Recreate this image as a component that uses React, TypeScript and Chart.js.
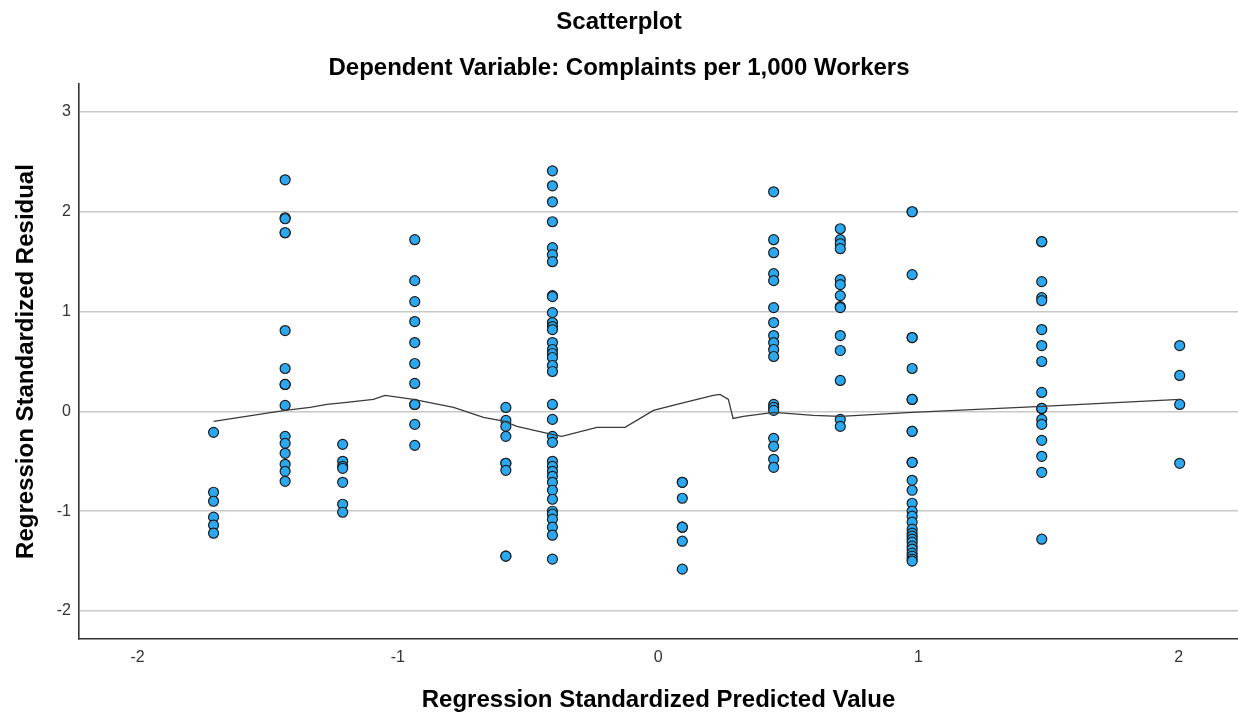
import React, { useEffect, useRef } from "react";
import { Chart, registerables } from "chart.js";

Chart.register(...registerables);

// Predicted value of each vertical stack of points
const predicted = [-1.708, -1.433, -1.212, -0.935, -0.585, -0.406, 0.093, 0.444, 0.7, 0.976, 1.474, 2.004];

// Standardized residuals per stack
const resA = [-0.21, -0.81, -0.9, -1.06, -1.14, -1.22];
const resB = [2.32, 1.94, 1.93, 1.79, 1.79, 0.81, 0.43, 0.27, 0.27, 0.06, -0.25, -0.32, -0.42, -0.53, -0.6, -0.7];
const resC = [-0.33, -0.5, -0.55, -0.57, -0.71, -0.93, -1.01];
const resD = [1.72, 1.31, 1.1, 0.9, 0.69, 0.48, 0.28, 0.07, 0.07, -0.13, -0.34];
const resE = [0.04, -0.09, -0.15, -0.25, -0.52, -0.52, -0.59, -1.45, -1.45];
const resF = [2.41, 2.26, 2.1, 1.9, 1.64, 1.57, 1.5, 1.16, 1.15, 0.99, 0.89, 0.85, 0.82, 0.69, 0.62, 0.58, 0.54, 0.46, 0.4, 0.07, -0.08, -0.25, -0.31, -0.5, -0.55, -0.6, -0.65, -0.71, -0.79, -0.88, -1.0, -1.03, -1.08, -1.16, -1.24, -1.48];
const resG = [-0.71, -0.71, -0.87, -1.16, -1.16, -1.3, -1.58];
const resH = [2.2, 1.72, 1.59, 1.38, 1.31, 1.04, 0.89, 0.76, 0.69, 0.62, 0.55, 0.07, 0.04, 0.01, -0.27, -0.35, -0.48, -0.56];
const resI = [1.83, 1.72, 1.68, 1.63, 1.32, 1.27, 1.16, 1.05, 1.04, 0.76, 0.61, 0.31, -0.08, -0.15];
const resJ = [2.0, 2.0, 1.37, 0.74, 0.74, 0.43, 0.12, 0.12, -0.2, -0.2, -0.51, -0.51, -0.69, -0.79, -0.92, -1.0, -1.05, -1.11, -1.18, -1.22, -1.25, -1.28, -1.31, -1.35, -1.38, -1.42, -1.45, -1.48, -1.5];
const resK = [1.7, 1.7, 1.3, 1.14, 1.11, 0.82, 0.66, 0.5, 0.19, 0.03, 0.03, -0.08, -0.13, -0.29, -0.45, -0.61, -1.28];
const resL = [0.66, 0.36, 0.07, -0.52];
const residualGroups = [resA, resB, resC, resD, resE, resF, resG, resH, resI, resJ, resK, resL];

// Loess fit line
const loessX = [-1.708, -1.433, -1.337, -1.273, -1.196, -1.094, -1.049, -0.94, -0.786, -0.671, -0.588, -0.543, -0.408, -0.37, -0.235, -0.127, -0.018, 0.072, 0.212, 0.238, 0.27, 0.288, 0.328, 0.444, 0.597, 0.7, 0.977, 1.475, 2.005];
const loessY = [-0.1, 0.01, 0.04, 0.07, 0.09, 0.12, 0.16, 0.12, 0.04, -0.06, -0.1, -0.15, -0.23, -0.25, -0.16, -0.16, 0.01, 0.07, 0.16, 0.17, 0.12, -0.07, -0.05, -0.01, -0.04, -0.05, -0.01, 0.05, 0.12];

// Axis ticks
const xTicks = [-2, -1, 0, 1, 2];
const yTicks = [-2, -1, 0, 1, 2, 3];

const titleText = "Scatterplot";
const subtitleText = "Dependent Variable: Complaints per 1,000 Workers";
const xTitle = "Regression Standardized Predicted Value";
const yTitle = "Regression Standardized Residual";

export default function App() {
  const ref = useRef<HTMLCanvasElement | null>(null);

  useEffect(() => {
    const canvas = ref.current;
    if (!canvas) return;
    Chart.defaults.font.family = "'Liberation Sans', Arial, sans-serif";

    const points: { x: number; y: number }[] = [];
    residualGroups.forEach((g, i) => g.forEach((r) => points.push({ x: predicted[i], y: r })));
    const line = loessX.map((x, i) => ({ x, y: loessY[i] }));

    const chart = new Chart(canvas, {
      type: "scatter",
      data: {
        datasets: [
          {
            type: "line",
            data: line,
            borderColor: "#3a3a3a",
            borderWidth: 1.3,
            pointRadius: 0,
            fill: false,
            tension: 0,
          } as any,
          {
            data: points,
            backgroundColor: "rgb(44,168,240)",
            borderColor: "#1c1c1c",
            borderWidth: 1.2,
            pointRadius: 5,
            pointHoverRadius: 5,
          },
        ],
      },
      options: {
        responsive: false,
        animation: false,
        devicePixelRatio: 1,
        layout: { padding: 0, autoPadding: false },
        plugins: {
          legend: { display: false },
          tooltip: { enabled: false },
          title: {
            display: true,
            text: titleText,
            color: "#000",
            font: { size: 24, weight: "bold" },
            padding: { top: 8, bottom: 0 },
          },
          subtitle: {
            display: true,
            text: subtitleText,
            color: "#000",
            font: { size: 24, weight: "bold" },
            padding: { top: 16.8, bottom: 1.6 },
          },
        },
        scales: {
          x: {
            type: "linear",
            min: -2.225,
            max: 2.228,
            grid: { display: false, drawTicks: false },
            border: { display: true, color: "#333", width: 1.6 },
            afterBuildTicks: (s: any) => {
              s.ticks = xTicks.map((v) => ({ value: v }));
            },
            afterFit: (s: any) => {
              s.height = 74;
              s.paddingLeft = 0;
              s.paddingRight = 0;
            },
            ticks: {
              color: "#333",
              font: { size: 16 },
              padding: 9,
              maxRotation: 0,
              autoSkip: false,
            },
            title: {
              display: true,
              text: xTitle,
              color: "#000",
              font: { size: 24, weight: "bold", lineHeight: 1.05 },
              padding: { top: 0, bottom: 0 },
            },
          },
          y: {
            type: "linear",
            min: -2.28,
            max: 3.28,
            grid: { color: "#c8c8c8", lineWidth: 1.5, drawTicks: false },
            border: { display: true, color: "#333", width: 1.6 },
            afterBuildTicks: (s: any) => {
              s.ticks = yTicks.map((v) => ({ value: v }));
            },
            afterFit: (s: any) => {
              s.width = 79;
              s.paddingTop = 0;
              s.paddingBottom = 0;
            },
            ticks: {
              color: "#333",
              font: { size: 16 },
              padding: 8,
              autoSkip: false,
            },
            title: {
              display: true,
              text: yTitle,
              color: "#000",
              font: { size: 24, weight: "bold" },
              padding: { top: 12, bottom: 0 },
            },
          },
        },
      },
    });
    return () => chart.destroy();
  }, []);

  return (
    <div style={{ position: "fixed", left: 0, top: 0, width: 1238, height: 713, background: "#fff" }}>
      <canvas ref={ref} width={1238} height={713} style={{ display: "block" }} />
    </div>
  );
}
